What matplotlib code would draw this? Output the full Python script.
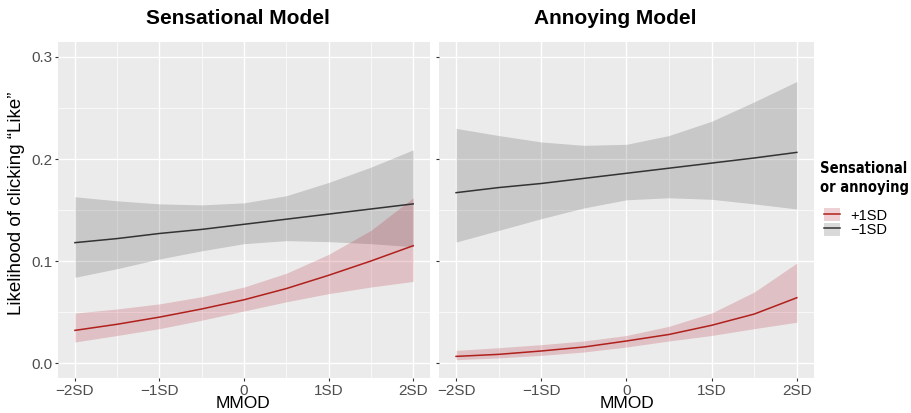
import matplotlib
matplotlib.use("Agg")
import matplotlib.pyplot as plt
from matplotlib.patches import Patch
from matplotlib.lines import Line2D

# moderator positions (in SD units)
mmod = [-2, -1.5, -1, -0.5, 0, 0.5, 1, 1.5, 2]
tick_pos = [-2, -1, 0, 1, 2]
tick_labels = ["\u22122SD", "\u22121SD", "0", "1SD", "2SD"]

# Sensational model
sens_lo_fit = [0.118, 0.122, 0.127, 0.131, 0.136, 0.141, 0.146, 0.151, 0.156]
sens_lo_upr = [0.163, 0.159, 0.156, 0.155, 0.157, 0.164, 0.177, 0.192, 0.209]
sens_lo_lwr = [0.084, 0.0925, 0.102, 0.110, 0.117, 0.120, 0.119, 0.117, 0.114]
sens_hi_fit = [0.032, 0.038, 0.045, 0.053, 0.062, 0.073, 0.086, 0.100, 0.115]
sens_hi_upr = [0.049, 0.053, 0.058, 0.065, 0.0745, 0.088, 0.1065, 0.130, 0.162]
sens_hi_lwr = [0.0206, 0.027, 0.0337, 0.042, 0.051, 0.060, 0.068, 0.0745, 0.080]

# Annoying model
ann_lo_fit = [0.167, 0.172, 0.176, 0.181, 0.186, 0.191, 0.196, 0.201, 0.2065]
ann_lo_upr = [0.230, 0.223, 0.2167, 0.2134, 0.2144, 0.223, 0.237, 0.256, 0.276]
ann_lo_lwr = [0.1186, 0.130, 0.1415, 0.152, 0.160, 0.162, 0.1605, 0.156, 0.151]
ann_hi_fit = [0.0065, 0.0085, 0.0118, 0.0157, 0.0216, 0.028, 0.037, 0.048, 0.064]
ann_hi_upr = [0.0124, 0.015, 0.018, 0.0216, 0.027, 0.036, 0.049, 0.0696, 0.098]
ann_hi_lwr = [0.0033, 0.005, 0.0075, 0.0108, 0.0157, 0.0216, 0.027, 0.0337, 0.040]

RED_FILL = "#B2182B"
RED_LINE = "#B0201C"
DARK = "#333333"

plt.rcParams["font.family"] = ["Liberation Sans", "DejaVu Sans"]

fig = plt.figure(figsize=(9.12, 4.13), dpi=100)
ax1 = fig.add_axes([0.0636, 0.0847, 0.408, 0.8136])
ax2 = fig.add_axes([0.4814, 0.0847, 0.411, 0.8136])

panels = [
    (ax1, sens_lo_fit, sens_lo_lwr, sens_lo_upr, sens_hi_fit, sens_hi_lwr, sens_hi_upr),
    (ax2, ann_lo_fit, ann_lo_lwr, ann_lo_upr, ann_hi_fit, ann_hi_lwr, ann_hi_upr),
]

for ax, lo_fit, lo_lwr, lo_upr, hi_fit, hi_lwr, hi_upr in panels:
    ax.set_facecolor("#EBEBEB")
    for s in ax.spines.values():
        s.set_visible(False)
    ax.set_xlim(-2.2, 2.2)
    ax.set_ylim(-0.0147, 0.3147)
    ax.set_xticks(tick_pos)
    ax.set_xticks([-1.5, -0.5, 0.5, 1.5], minor=True)
    ax.set_yticks([0.0, 0.1, 0.2, 0.3])
    ax.set_yticks([0.05, 0.15, 0.25], minor=True)
    ax.grid(which="major", color="white", lw=1.0)
    ax.grid(which="minor", color="white", lw=0.5)
    ax.set_axisbelow(True)
    ax.tick_params(which="major", length=2.5, width=0.8, color=DARK,
                   labelsize=11, labelcolor="#4D4D4D", pad=1.5)
    ax.tick_params(which="minor", length=0)
    ax.set_xticklabels(tick_labels)

    ax.fill_between(mmod, lo_lwr, lo_upr, color="black", alpha=0.15, lw=0)
    ax.plot(mmod, lo_fit, color=DARK, lw=1.1)
    ax.fill_between(mmod, hi_lwr, hi_upr, color=RED_FILL, alpha=0.2, lw=0)
    ax.plot(mmod, hi_fit, color=RED_LINE, lw=1.1)

ax1.set_yticklabels(["0.0", "0.1", "0.2", "0.3"])
ax2.set_yticklabels([])

fig.text(238 / 912, 1 - 19 / 413, "Sensational Model", ha="center", va="center",
         fontsize=15, fontweight="bold")
fig.text(615 / 912, 1 - 19 / 413, "Annoying Model", ha="center", va="center",
         fontsize=15, fontweight="bold")
fig.text(243 / 912, 2 / 413, "MMOD", ha="center", va="bottom", fontsize=12.5)
fig.text(627 / 912, 2 / 413, "MMOD", ha="center", va="bottom", fontsize=12.5)
fig.text(17 / 912, 1 - 203 / 413, "Likelihood of clicking \u201cLike\u201d", ha="center",
         va="center", rotation=90, fontsize=13.5)

# legend: title as separate text, keys below
fig.text(820 / 912, 1 - 161 / 413, "Sensational\nor annoying", ha="left", va="top",
         linespacing=1.3,
         fontproperties={"family": "DejaVu Sans", "stretch": "condensed",
                         "weight": "bold", "size": 10.5})
handles = [
    (Patch(facecolor=RED_FILL, alpha=0.2), Line2D([], [], color=RED_LINE, lw=1.1)),
    (Patch(facecolor="black", alpha=0.15), Line2D([], [], color=DARK, lw=1.1)),
]
fig.legend(handles, ["+1SD", "\u22121SD"], loc="upper left",
           bbox_to_anchor=(824 / 912, 1 - 208 / 413), frameon=False,
           borderpad=0, borderaxespad=0,
           fontsize=10.5, handlelength=1.1, handleheight=1.0,
           handletextpad=0.7, labelspacing=0.0)

fig.savefig("out.png", dpi=100)
